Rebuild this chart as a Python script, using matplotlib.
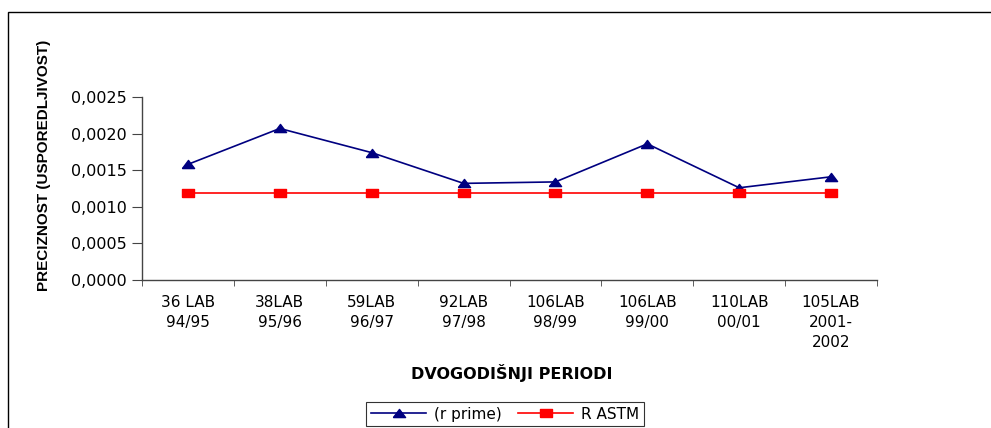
import matplotlib.pyplot as plt
import matplotlib.patches as patches
from matplotlib.ticker import FuncFormatter, FixedLocator
import numpy as np

plt.rcParams['font.family'] = ['DejaVu Sans']

periods = ['36 LAB\n94/95', '38LAB\n95/96', '59LAB\n96/97', '92LAB\n97/98',
           '106LAB\n98/99', '106LAB\n99/00', '110LAB\n00/01', '105LAB\n2001-\n2002']
r_prime = [0.00158, 0.00207, 0.00174, 0.00132, 0.00134, 0.00186, 0.00126, 0.00141]
r_astm = [0.00119, 0.00119, 0.00119, 0.00119, 0.00119, 0.00119, 0.00119, 0.00119]

# the source chart is stretched sideways, so the markers are wider than tall
wide_tri = [(-0.75, -0.5), (0.75, -0.5), (0, 0.5), (-0.75, -0.5)]
wide_sq = [(-0.69, -0.5), (0.69, -0.5), (0.69, 0.5), (-0.69, 0.5), (-0.69, -0.5)]

fig = plt.figure(figsize=(9.91, 4.28), dpi=100)
ax = fig.add_axes([142 / 991, 1 - 280 / 428, (877 - 142) / 991, (280 - 97) / 428])

# outer chart border
fig.patches.append(patches.Rectangle((7.5 / 991, -0.05), 1.0, 1 - 12 / 428 + 0.05,
                                     transform=fig.transFigure, fill=False,
                                     edgecolor='black', linewidth=1.0))

x = np.arange(len(periods))
ax.plot(x, r_prime, color='#000080', marker=wide_tri, markersize=8.8, linewidth=1.2,
        label='(r prime)')
ax.plot(x, r_astm, color='#FF0000', marker=wide_sq, markersize=8.0, linewidth=1.2,
        label='R ASTM')

ax.set_xlim(-0.5, len(periods) - 0.5)
ax.set_ylim(0, 0.0025)
ax.set_yticks(np.arange(0, 0.00251, 0.0005))
ax.yaxis.set_major_formatter(FuncFormatter(lambda v, p: f'{v:.4f}'.replace('.', ',')))

ax.set_xticks(x)
ax.set_xticklabels(periods, linespacing=1.4, fontsize=11)
ax.xaxis.set_minor_locator(FixedLocator(np.arange(-0.5, len(periods), 1.0)))
ax.tick_params(axis='x', which='major', length=0, pad=11)
ax.tick_params(axis='x', which='minor', length=4, color='#444444', direction='out')
ax.tick_params(axis='y', length=7, color='#444444', direction='out', labelsize=11.5, pad=4)

for s in ['top', 'right']:
    ax.spines[s].set_visible(False)
for s in ['left', 'bottom']:
    ax.spines[s].set_color('#444444')
    ax.spines[s].set_linewidth(1.0)

fig.text(44 / 991, 1 - 165 / 428, 'PRECIZNOST (USPOREDLJIVOST)', rotation=90,
         ha='center', va='center', fontsize=11, fontweight='bold',
         family='Liberation Sans')
fig.text(512 / 991, 1 - 373 / 428, 'DVOGODIŠNJI PERIODI', ha='center', va='center',
         fontsize=11.5, fontweight='bold')

leg = fig.legend(loc='upper center', bbox_to_anchor=(505 / 991, 1 - 402 / 428),
                 ncol=2, frameon=True, fancybox=False, fontsize=11,
                 handlelength=3.6, columnspacing=1.1, handletextpad=0.5,
                 borderpad=0.3, borderaxespad=0)
leg.get_frame().set_edgecolor('black')
leg.get_frame().set_linewidth(0.8)

fig.savefig('out.png', dpi=100)
